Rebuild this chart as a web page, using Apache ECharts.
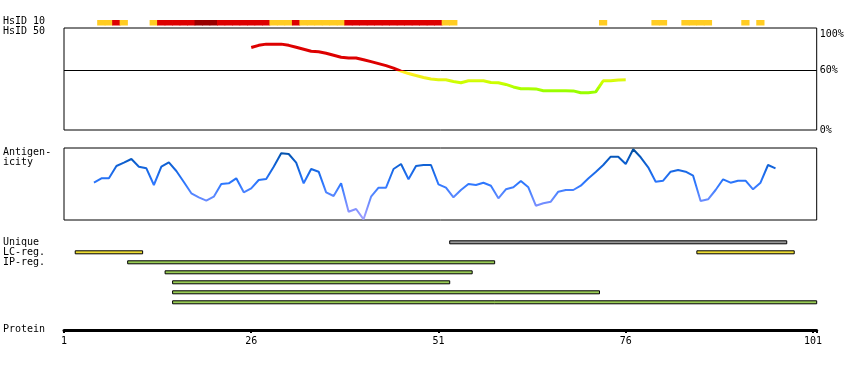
<!DOCTYPE html>
<html><head><meta charset="utf-8">
<script src="https://cdn.jsdelivr.net/npm/echarts@6/dist/echarts.min.js"></script>
<style>html,body{margin:0;padding:0;background:#fff}#c{width:850px;height:370px}</style>
</head><body><div id="c"></div>
<script>
const FONT_FAMILY = '"DejaVu Sans Mono", monospace';
const positionTicks = [1, 26, 51, 76, 101];
const percentTicks = [0, 60, 100];

// HsID 10 per-residue class (residue 1..101): 0 none, 1 yellow, 2 red, 3 dark red
const hsid10Codes = [
  0,0,0,0,0, 1,1, 2, 1, 0,0,0, 1, 2,2,2,2,2, 3,3,3, 2,2,2,2,2,2,2, 1,1,1, 2,
  1,1,1,1,1,1, 2,2,2,2,2,2,2,2,2,2,2,2,2, 1,1,
  0,0,0,0,0,0,0,0,0,0,0,0,0,0,0,0,0,0,0, 1, 0,0,0,0,0,0, 1,1, 0,0, 1,1,1,1,
  0,0,0,0, 1, 0, 1, 0,0,0,0,0,0,0
];

// HsID 50 (%) from residue 26
const hsid50Start = 26;
const hsid50Values = [83.3,85.5,86.7,86.7,86.7,85.5,83.5,81.5,79.5,79,77.5,75.5,73.5,72.7,72.7,71,69,67,65,62.5,
  59.5,57,55,53,51.5,50.7,50.7,49,47.7,49.7,49.7,49.7,48,47.7,46,43.5,41.7,41.7,41.5,39.7,
  39.7,39.7,39.7,39.5,37.7,37.7,38.5,49.7,49.7,50.5,50.7];

// Antigenicity from residue 5
const antigenStart = 5;
const antigenValues = [37.3,41.7,41.7,54,57.3,61,53.3,51.7,35,53.3,57.7,49,38,26.7,22.7,19.3,23.3,36,36.7,41.7,
  27.7,31.7,40,41,53.3,66.7,66,57.3,36.7,51,48.3,27.7,24,36.7,8.3,11,0.7,23.3,32.3,32.3,
  51,56,40.7,54,55,55,35.7,32.3,22.7,30,36,35,37.3,34.3,21.7,30.7,32.7,39,32.7,14.3,
  16.7,18.3,28.3,30,30,34.3,41.5,48,55,63.3,63.3,56,70.7,62.7,52.7,38.3,39.3,48.3,50,48.3,
  44.3,19,20.7,30,40.7,37.3,39.3,39.3,30.7,37.3,55,51.7];

// Regions [start, end]
const uniqueRegions = [[53, 97]];
const lcRegions = [[3, 11], [86, 98]];
const ipRegions = [[10, 58], [15, 55], [16, 52], [16, 72], [16, 101]];

const trackLabels = [
  ['HsID 10', 22.7], ['HsID 50', 32.7], ['Antigen-', 153.3], ['icity', 163.3],
  ['Unique', 243.3], ['LC-reg.', 253.3], ['IP-reg.', 263.3], ['Protein', 330]
];

const hsid10Colors = [null, '#ffcc22', '#dd0000', '#990000'];
const featureColors = ['#999999', '#eedd33', '#99cc55'];

const hsid10Data = hsid10Codes.map((c, i) => [i + 1, c]);
const hsid50Data = hsid50Values.map((v, i) => [hsid50Start + i, v]);
const antigenData = antigenValues.map((v, i) => [antigenStart + i, v]);
const featureData = [];
uniqueRegions.forEach(r => featureData.push([r[0], r[1], 0, 0]));
lcRegions.forEach(r => featureData.push([r[0], r[1], 1, 1]));
ipRegions.forEach((r, k) => featureData.push([r[0], r[1], 2 + k, 2]));

const LEFT = 64, WIDTH = 752.7, XMIN = 1, XMAX = 101.5;
function hiddenX(gi) {
  return {type: 'value', gridIndex: gi, min: XMIN, max: XMAX, show: false};
}

const chart = echarts.init(document.getElementById('c'), null, {renderer: 'canvas'});
chart.setOption({
  animation: false,
  backgroundColor: '#ffffff',
  grid: [
    {left: LEFT, width: WIDTH, top: 20, height: 5.5},
    {left: LEFT, width: WIDTH, top: 28, height: 102, show: true, borderColor: '#000', borderWidth: 1},
    {left: LEFT, width: WIDTH, top: 148, height: 72, show: true, borderColor: '#000', borderWidth: 1},
    {left: LEFT, width: WIDTH, top: 237.3, height: 70},
    {left: LEFT, width: WIDTH, top: 329, height: 1}
  ],
  xAxis: [
    hiddenX(0), hiddenX(1), hiddenX(2), hiddenX(3),
    {type: 'value', gridIndex: 4, min: XMIN, max: XMAX, position: 'bottom',
     splitLine: {show: false},
     axisLine: {show: true, lineStyle: {color: '#000', width: 3}},
     axisTick: {show: true, customValues: positionTicks.concat([XMAX]), length: 3, lineStyle: {color: '#000', width: 2}},
     axisLabel: {show: true, customValues: positionTicks, color: '#000', fontFamily: FONT_FAMILY, fontSize: 10, margin: 6}}
  ],
  yAxis: [
    {type: 'value', gridIndex: 0, min: 0, max: 1, show: false},
    {type: 'value', gridIndex: 1, min: 0, max: 103, position: 'right',
     splitLine: {show: false}, axisLine: {show: false}, axisTick: {show: false},
     axisLabel: {show: true, customValues: percentTicks,
                 formatter: v => (v === 100 ? '{top|' + v + '%}' : v + '%'), color: '#000',
                 fontFamily: FONT_FAMILY, fontSize: 10, margin: 3,
                 rich: {top: {padding: [6, 0, 0, 0], fontFamily: FONT_FAMILY, fontSize: 10, color: '#000'}}}},
    {type: 'value', gridIndex: 2, min: 0, max: 72, show: false},
    {type: 'value', gridIndex: 3, min: 0, max: 7, inverse: true, show: false},
    {type: 'value', gridIndex: 4, min: 0, max: 1, show: false}
  ],
  visualMap: [
    {type: 'piecewise', show: false, seriesIndex: 1, dimension: 1,
     pieces: [
       {lt: 40, color: '#99ff00'},
       {gte: 40, lt: 43, color: '#aaff00'},
       {gte: 43, lt: 46, color: '#bbff00'},
       {gte: 46, lt: 49, color: '#ccff00'},
       {gte: 49, lt: 52, color: '#ddf810'},
       {gte: 52, lt: 56, color: '#eef018'},
       {gte: 56, lt: 60, color: '#ffee22'},
       {gte: 60, color: '#dd0000'}
     ]},
    {type: 'continuous', show: false, seriesIndex: 2, dimension: 1, min: 0, max: 72,
     inRange: {color: ['#a0a0ff', '#8090ff', '#5a88ff', '#2f78ff', '#1a6ae8', '#0a5cc8', '#004c99']}}
  ],
  series: [
    {type: 'custom', xAxisIndex: 0, yAxisIndex: 0, data: hsid10Data, silent: true,
     renderItem: function (params, api) {
       const i = api.value(0), c = api.value(1);
       if (!c) return null;
       const p1 = api.coord([i - 0.57, 1]), p2 = api.coord([i + 0.53, 0]);
       return {type: 'rect', shape: {x: p1[0], y: p1[1], width: p2[0] - p1[0], height: p2[1] - p1[1]},
               style: {fill: hsid10Colors[c]}};
     }},
    {type: 'line', xAxisIndex: 1, yAxisIndex: 1, data: hsid50Data, showSymbol: false, symbol: 'none',
     lineStyle: {width: 3}, silent: true, z: 3,
     markLine: {silent: true, symbol: 'none', label: {show: false}, z: 2,
                lineStyle: {color: '#000', width: 1, type: 'solid'}, data: [{yAxis: 60}]}},
    {type: 'line', xAxisIndex: 2, yAxisIndex: 2, data: antigenData, showSymbol: false, symbol: 'none',
     lineStyle: {width: 2}, silent: true},
    {type: 'custom', xAxisIndex: 3, yAxisIndex: 3, data: featureData, silent: true,
     renderItem: function (params, api) {
       const s = api.value(0), e = api.value(1), row = api.value(2), kind = api.value(3);
       const p1 = api.coord([s - 0.5, row + 0.5]), p2 = api.coord([e + 0.5, row + 0.5]);
       return {type: 'rect', shape: {x: p1[0], y: p1[1] - 1.5, width: p2[0] - p1[0], height: 3},
               style: {fill: featureColors[kind], stroke: '#000', lineWidth: 1}};
     }}
  ],
  graphic: trackLabels.map(t => ({
    type: 'text', left: 3, top: t[1] - 6, silent: true,
    style: {text: t[0], fill: '#000', font: '10px ' + FONT_FAMILY}
  }))
});
</script></body></html>
